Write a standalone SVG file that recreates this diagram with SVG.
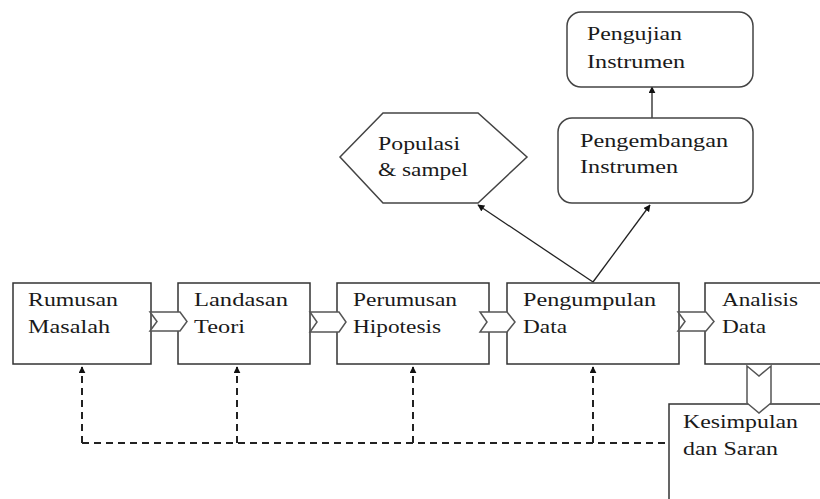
<svg xmlns="http://www.w3.org/2000/svg" width="820" height="499" viewBox="0 0 820 499">
<defs>
<marker id="ah" viewBox="0 0 10 10" refX="9" refY="5" markerWidth="7" markerHeight="7" markerUnits="userSpaceOnUse" orient="auto">
<path d="M0,0 L10,5 L0,10 z" fill="#111"/>
</marker>
</defs>
<style>
.box{fill:#fff;stroke:#333;stroke-width:1.5}
.rbox{fill:#fff;stroke:#444;stroke-width:1.5}
.chev{fill:#fff;stroke:#555;stroke-width:1.5;stroke-linejoin:miter}
text{font-family:'Liberation Serif', 'DejaVu Serif', serif;font-size:19px;fill:#1a1a1a}
.line{fill:none;stroke:#222;stroke-width:1.3}
.dash{fill:none;stroke:#222;stroke-width:2;stroke-dasharray:7,5}
</style>
<rect width="820" height="499" fill="#fff"/>

<g id="kesimpulan">
<rect class="box" x="669" y="404" width="200" height="150"/>
<text x="683" y="428" textLength="115" lengthAdjust="spacingAndGlyphs">Kesimpulan</text>
<text x="683" y="455" textLength="95" lengthAdjust="spacingAndGlyphs">dan Saran</text>
</g>

<g id="connectors">
<path class="dash" d="M82,443 H669"/>
<path class="dash" d="M82,443 V367" marker-end="url(#ah)"/>
<path class="dash" d="M237,443 V367" marker-end="url(#ah)"/>
<path class="dash" d="M413,443 V367" marker-end="url(#ah)"/>
<path class="dash" d="M593,443 V367" marker-end="url(#ah)"/>
<path class="line" d="M593,282 L478,205" marker-end="url(#ah)"/>
<path class="line" d="M593,282 L650,205" marker-end="url(#ah)"/>
<path class="line" d="M652,118 V87" marker-end="url(#ah)"/>
</g>

<g id="rumusan">
<rect class="box" x="13" y="283" width="138" height="81"/>
<text x="28" y="306" textLength="90" lengthAdjust="spacingAndGlyphs">Rumusan</text>
<text x="28" y="333" textLength="82" lengthAdjust="spacingAndGlyphs">Masalah</text>
</g>
<g id="landasan">
<rect class="box" x="178" y="283" width="132" height="81"/>
<text x="194" y="306" textLength="94" lengthAdjust="spacingAndGlyphs">Landasan</text>
<text x="194" y="333" textLength="51" lengthAdjust="spacingAndGlyphs">Teori</text>
</g>
<g id="perumusan">
<rect class="box" x="337" y="283" width="152" height="81"/>
<text x="353" y="306" textLength="104" lengthAdjust="spacingAndGlyphs">Perumusan</text>
<text x="353" y="333" textLength="88" lengthAdjust="spacingAndGlyphs">Hipotesis</text>
</g>
<g id="pengumpulan">
<rect class="box" x="507" y="283" width="172" height="81"/>
<text x="523" y="306" textLength="133" lengthAdjust="spacingAndGlyphs">Pengumpulan</text>
<text x="523" y="333" textLength="44" lengthAdjust="spacingAndGlyphs">Data</text>
</g>
<g id="analisis">
<rect class="box" x="705" y="283" width="150" height="81"/>
<text x="722" y="306" textLength="76" lengthAdjust="spacingAndGlyphs">Analisis</text>
<text x="722" y="333" textLength="44" lengthAdjust="spacingAndGlyphs">Data</text>
</g>

<g id="flow">
<path class="chev" d="M150,312 H180 L187,321.5 L180,331 H150 L157,321.5 Z"/>
<path class="chev" d="M310,312 H339 L346,322 L339,332 H310 L317,322 Z"/>
<path class="chev" d="M480,312 H507 L515,322 L507,332 H480 L487,322 Z"/>
<path class="chev" d="M678,312 H706 L714,321.5 L706,331 H678 L685,321.5 Z"/>
<path class="chev" d="M747,366 L759,376 L771,366 V403 L759,413 L747,403 Z"/>
</g>

<g id="populasi">
<polygon class="rbox" points="340,157 383,113 478,113 527,157 478,203 383,203"/>
<text x="378" y="150" textLength="82" lengthAdjust="spacingAndGlyphs">Populasi</text>
<text x="378" y="176" textLength="90" lengthAdjust="spacingAndGlyphs">&amp; sampel</text>
</g>
<g id="pengembangan">
<rect class="rbox" x="558" y="118" width="195" height="85" rx="14"/>
<text x="580" y="147" textLength="148" lengthAdjust="spacingAndGlyphs">Pengembangan</text>
<text x="580" y="173" textLength="98" lengthAdjust="spacingAndGlyphs">Instrumen</text>
</g>
<g id="pengujian">
<rect class="rbox" x="567" y="12" width="186" height="75" rx="14"/>
<text x="587" y="40" textLength="95" lengthAdjust="spacingAndGlyphs">Pengujian</text>
<text x="587" y="68" textLength="98" lengthAdjust="spacingAndGlyphs">Instrumen</text>
</g>
</svg>
